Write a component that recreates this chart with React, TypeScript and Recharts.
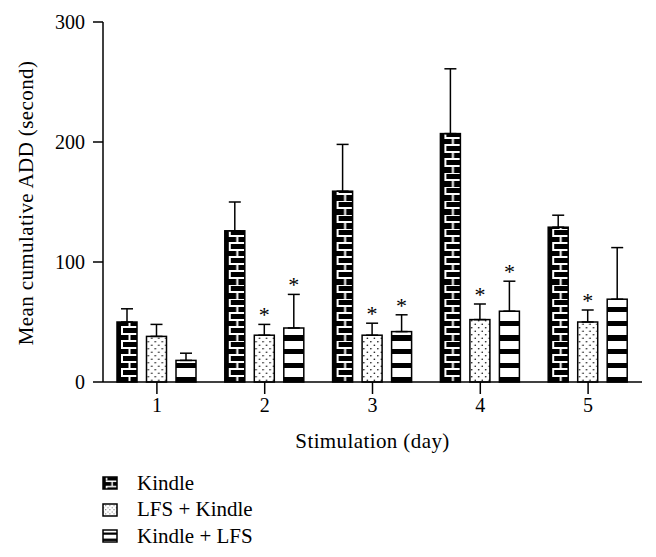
import React from "react";
import {
  BarChart,
  Bar,
  XAxis,
  YAxis,
  ErrorBar,
  LabelList,
  Label,
} from "recharts";

const days = ["1", "2", "3", "4", "5"];

const kindle = [50, 126, 159, 207, 129];
const kindleErr = [11, 24, 39, 54, 10];

const lfsKindle = [38, 39, 39, 52, 50];
const lfsKindleErr = [10, 9, 10, 13, 10];
const lfsKindleSig = [false, true, true, true, true];

const kindleLfs = [18, 45, 42, 59, 69];
const kindleLfsErr = [6, 28, 14, 25, 43];
const kindleLfsSig = [false, true, true, true, false];

const yTicks = [0, 100, 200, 300];

const FONT = "'Liberation Serif', serif";

// error bars only go up, so low side is 0
const data = days.map((day, i) => ({
  day,
  kindle: kindle[i],
  kindleErr: [0, kindleErr[i]],
  lfsKindle: lfsKindle[i],
  lfsKindleErr: [0, lfsKindleErr[i]],
  kindleLfs: kindleLfs[i],
  kindleLfsErr: [0, kindleLfsErr[i]],
}));

type Kind = "brick" | "dots" | "stripes";

const tileSize: Record<Kind, [number, number]> = {
  brick: [20, 14],
  dots: [7, 7],
  stripes: [20, 14],
};

function Tile({ kind }: { kind: Kind }) {
  if (kind === "brick") {
    return (
      <>
        <rect width={20} height={14} fill="#000" />
        <rect x={4} y={0} width={16} height={2} fill="#fff" />
        <rect x={4} y={7} width={16} height={2} fill="#fff" />
        <rect x={4} y={0} width={2} height={7} fill="#fff" />
        <rect x={11.5} y={9} width={2} height={5} fill="#fff" />
      </>
    );
  }
  if (kind === "dots") {
    return (
      <>
        <rect width={7} height={7} fill="#fff" />
        <circle cx={1.8} cy={1.8} r={0.8} fill="#000" />
        <circle cx={5.3} cy={5.3} r={0.8} fill="#000" />
      </>
    );
  }
  return (
    <>
      <rect width={20} height={14} fill="#fff" />
      <rect x={0} y={9} width={20} height={5} fill="#000" />
    </>
  );
}

function PatternBar(props: any) {
  const { x, y, width, height, index, kind } = props;
  if (!height || height <= 0) return null;
  const id = `pat-${kind}-${index}`;
  const [tw, th] = tileSize[kind as Kind];
  return (
    <g>
      <defs>
        <pattern
          id={id}
          patternUnits="userSpaceOnUse"
          x={x}
          y={y + height}
          width={tw}
          height={th}
        >
          <Tile kind={kind} />
        </pattern>
      </defs>
      <rect
        x={x}
        y={y}
        width={width}
        height={height}
        fill={`url(#${id})`}
        stroke="#000"
        strokeWidth={1.5}
      />
    </g>
  );
}

function Star(props: any) {
  const { x, y, width, height, value, index, errs, sig } = props;
  if (!sig[index] || !value) return null;
  const pxPerUnit = height / value;
  const errTop = y - errs[index] * pxPerUnit;
  return (
    <text
      x={x + width / 2}
      y={errTop - 2}
      textAnchor="middle"
      fontFamily={FONT}
      fontSize={22}
      fill="#000"
    >
      *
    </text>
  );
}

const legendItems: { name: string; kind: Kind; scale: number }[] = [
  { name: "Kindle", kind: "brick", scale: 0.75 },
  { name: "LFS + Kindle", kind: "dots", scale: 0.6 },
  { name: "Kindle + LFS", kind: "stripes", scale: 0.44 },
];

function LegendIcon({ kind, scale }: { kind: Kind; scale: number }) {
  const [tw, th] = tileSize[kind];
  const id = `legend-${kind}`;
  return (
    <svg width={16} height={14} style={{ display: "block" }}>
      <defs>
        <pattern
          id={id}
          patternUnits="userSpaceOnUse"
          x={1}
          y={13}
          width={tw}
          height={th}
          patternTransform={`scale(${scale})`}
        >
          <Tile kind={kind} />
        </pattern>
      </defs>
      <rect x={1} y={1} width={14} height={12} fill={`url(#${id})`} stroke="#000" strokeWidth={1.5} />
    </svg>
  );
}

export default function App() {
  return (
    <div style={{ position: "absolute", left: 0, top: 0, width: 656, height: 557, background: "#fff" }}>
      <BarChart
        width={656}
        height={557}
        data={data}
        margin={{ top: 22, right: 14, left: 0, bottom: 105 }}
        barSize={20}
        barGap={9.5}
      >
        <XAxis
          dataKey="day"
          height={70}
          tickSize={12}
          tickMargin={4}
          axisLine={{ stroke: "#000", strokeWidth: 1.5 }}
          tickLine={{ stroke: "#000", strokeWidth: 1.5 }}
          tick={{ fill: "#000", fontSize: 20, fontFamily: FONT }}
        >
          <Label
            value="Stimulation (day)"
            position="insideBottom"
            offset={4}
            style={{ fill: "#000", fontSize: 21, fontFamily: FONT, letterSpacing: 0.4 }}
          />
        </XAxis>
        <YAxis
          width={103}
          domain={[0, 300]}
          ticks={yTicks}
          tickSize={10}
          tickMargin={8}
          axisLine={{ stroke: "#000", strokeWidth: 1.5 }}
          tickLine={{ stroke: "#000", strokeWidth: 1.5 }}
          tick={{ fill: "#000", fontSize: 20, fontFamily: FONT }}
        >
          <Label
            content={() => (
              <text
                x={26}
                y={203}
                transform="rotate(-90 26 203)"
                textAnchor="middle"
                dominantBaseline="central"
                fontFamily={FONT}
                fontSize={21}
                letterSpacing={0.4}
                fill="#000"
              >
                Mean cumulative ADD (second)
              </text>
            )}
          />
        </YAxis>
        <Bar
          dataKey="kindle"
          isAnimationActive={false}
          shape={(p: any) => <PatternBar {...p} kind="brick" />}
        >
          <ErrorBar dataKey="kindleErr" width={6} stroke="#000" strokeWidth={1.5} direction="y" />
        </Bar>
        <Bar
          dataKey="lfsKindle"
          isAnimationActive={false}
          shape={(p: any) => <PatternBar {...p} kind="dots" />}
        >
          <ErrorBar dataKey="lfsKindleErr" width={6} stroke="#000" strokeWidth={1.5} direction="y" />
          <LabelList
            dataKey="lfsKindle"
            content={(p: any) => <Star {...p} errs={lfsKindleErr} sig={lfsKindleSig} />}
          />
        </Bar>
        <Bar
          dataKey="kindleLfs"
          isAnimationActive={false}
          shape={(p: any) => <PatternBar {...p} kind="stripes" />}
        >
          <ErrorBar dataKey="kindleLfsErr" width={6} stroke="#000" strokeWidth={1.5} direction="y" />
          <LabelList
            dataKey="kindleLfs"
            content={(p: any) => <Star {...p} errs={kindleLfsErr} sig={kindleLfsSig} />}
          />
        </Bar>
      </BarChart>
      <div style={{ position: "absolute", left: 102, top: 470, fontFamily: FONT, fontSize: 21, color: "#000" }}>
        {legendItems.map((item) => (
          <div key={item.name} style={{ display: "flex", alignItems: "center", height: 26.5 }}>
            <LegendIcon kind={item.kind} scale={item.scale} />
            <span style={{ marginLeft: 19 }}>{item.name}</span>
          </div>
        ))}
      </div>
    </div>
  );
}
